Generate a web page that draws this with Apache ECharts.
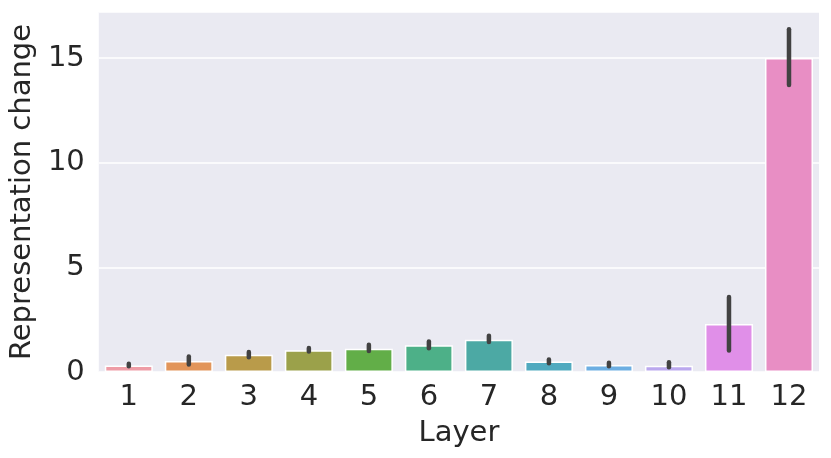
<!DOCTYPE html>
<html>
<head>
<meta charset="utf-8">
<script src="https://cdn.jsdelivr.net/npm/echarts@6/dist/echarts.min.js"></script>
<style>
html,body{margin:0;padding:0;background:#fff;}
#chart{width:831px;height:458px;}
</style>
</head>
<body>
<div id="chart"></div>
<script>
const layers = ['1','2','3','4','5','6','7','8','9','10','11','12'];
const means = [0.31, 0.52, 0.82, 1.04, 1.11, 1.28, 1.54, 0.50, 0.33, 0.30, 2.29, 15.0];
const errLow = [0.28, 0.36, 0.71, 0.98, 1.00, 1.14, 1.43, 0.42, 0.28, 0.23, 1.03, 13.71];
const errHigh = [0.39, 0.74, 0.95, 1.15, 1.30, 1.46, 1.73, 0.60, 0.44, 0.46, 3.58, 16.37];
const barColors = ['#EE9CA6','#E2955A','#B99B4A','#9BA14A','#62AE48','#4DB088','#4CA9A4','#50AABF','#6CAEE2','#BBA8EE','#E08FE8','#E88EC4'];
const yTicks = [0, 5, 10, 15];

const chart = echarts.init(document.getElementById('chart'));
const font = 'DejaVu Sans';
chart.setOption({
  animation: false,
  backgroundColor: '#ffffff',
  grid: {left: 96, right: 12, top: 12, bottom: 86, show: true, backgroundColor: '#EAEAF2', borderWidth: 0},
  xAxis: {
    type: 'category',
    data: layers,
    name: 'Layer',
    nameLocation: 'middle',
    nameGap: 47,
    nameTextStyle: {fontFamily: font, fontSize: 29, color: '#262626'},
    axisLine: {show: false},
    axisTick: {show: false},
    splitLine: {show: false},
    axisLabel: {fontFamily: font, fontSize: 29, color: '#262626', margin: 11, interval: 0}
  },
  yAxis: {
    type: 'value',
    min: 0,
    max: 17.2,
    interval: 5,
    name: 'Representation change',
    nameLocation: 'middle',
    nameGap: 54,
    nameTextStyle: {fontFamily: font, fontSize: 29, color: '#262626'},
    axisLine: {show: false},
    axisTick: {show: false},
    splitLine: {show: true, lineStyle: {color: '#ffffff', width: 1.5}},
    axisLabel: {
      fontFamily: font, fontSize: 29, color: '#262626', margin: 14,
      formatter: function (v) { return yTicks.indexOf(v) >= 0 ? String(v) : ''; }
    }
  },
  series: [
    {
      type: 'bar',
      barWidth: '80%',
      data: means.map((v, i) => ({value: v, itemStyle: {color: barColors[i]}})),
      itemStyle: {borderColor: '#ffffff', borderWidth: 1.5},
      z: 2
    },
    {
      type: 'custom',
      z: 5,
      data: layers.map((c, i) => [i, errLow[i], errHigh[i]]),
      renderItem: function (params, api) {
        const p1 = api.coord([api.value(0), api.value(1)]);
        const p2 = api.coord([api.value(0), api.value(2)]);
        return {
          type: 'line',
          shape: {x1: p1[0], y1: p1[1], x2: p2[0], y2: p2[1]},
          style: {stroke: '#424242', lineWidth: 4.5, lineCap: 'round'}
        };
      }
    }
  ]
});
</script>
</body>
</html>
